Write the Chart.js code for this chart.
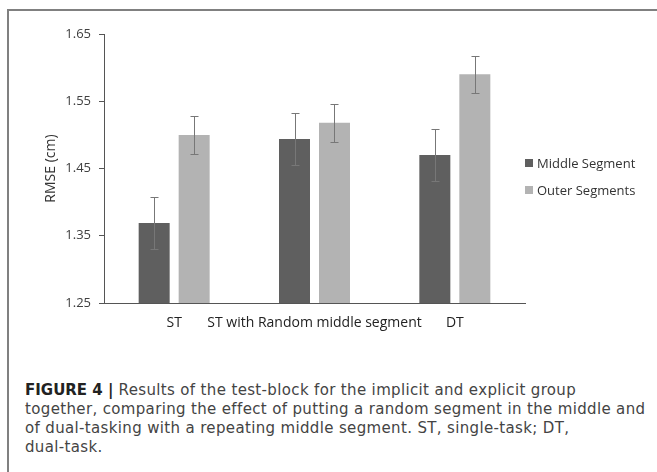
<!DOCTYPE html>
<html>
<head>
<meta charset="utf-8">
<script src="https://cdn.jsdelivr.net/npm/chart.js@4.4.1/dist/chart.umd.min.js"></script>
<style>
  html, body { margin: 0; padding: 0; background: #fff; }
  body { width: 657px; height: 472px; position: relative; overflow: hidden; font-family: "Open Sans", sans-serif; }
  #frame { position: absolute; left: 7px; top: 9px; width: 660px; height: 490px; border: 2px solid #808080; box-sizing: border-box; }
  #chart { position: absolute; left: 0; top: 0; }
  #legend { position: absolute; left: 525px; top: 154px; font-size: 13px; color: #333; }
  #legend .item { position: absolute; left: 0; white-space: nowrap; height: 18px; line-height: 18px; }
  #legend .box { position: absolute; left: 0; top: 5px; width: 8px; height: 8px; }
  #legend .txt { position: absolute; left: 12px; top: 0; }
  #caption { position: absolute; left: 25px; top: 381px; font-family: "DejaVu Sans", sans-serif; font-size: 15px; letter-spacing: 0.35px; line-height: 19px; color: #444; white-space: nowrap; }
  #caption b { color: #222; letter-spacing: 0; }
</style>
</head>
<body>
<div id="frame"></div>
<canvas id="chart" width="657" height="345"></canvas>
<div id="legend"></div>
<div id="caption"><b>FIGURE 4 |</b> Results of the test-block for the implicit and explicit group<br>together, comparing the effect of putting a random segment in the middle and<br>of dual-tasking with a repeating middle segment. ST, single-task; DT,<br>dual-task.</div>
<script>
const categories = ['ST', 'ST with Random middle segment', 'DT'];
const seriesNames = ['Middle Segment', 'Outer Segments'];
const middleValues = [1.369, 1.494, 1.470];
const outerValues = [1.500, 1.518, 1.590];
const middleErrors = [0.039, 0.039, 0.039];
const outerErrors = [0.028, 0.028, 0.027];
const yTicks = [1.25, 1.35, 1.45, 1.55, 1.65];
const colors = ['#5f5f5f', '#b3b3b3'];

// error bars drawn on top of the bars
const errorBars = {
    id: 'errorBars',
    afterDatasetsDraw(chart) {
        const ctx = chart.ctx, y = chart.scales.y;
        chart.data.datasets.forEach(function (ds, i) {
            chart.getDatasetMeta(i).data.forEach(function (bar, j) {
                const x = Math.round(bar.x) + 0.5;
                const top = Math.round(y.getPixelForValue(ds.data[j] + ds.errors[j])) + 0.5;
                const bot = Math.round(y.getPixelForValue(ds.data[j] - ds.errors[j])) + 0.5;
                ctx.save();
                ctx.strokeStyle = '#777';
                ctx.lineWidth = 1;
                ctx.beginPath();
                ctx.moveTo(x, top); ctx.lineTo(x, bot);
                ctx.moveTo(x - 4, top); ctx.lineTo(x + 4, top);
                ctx.moveTo(x - 4, bot); ctx.lineTo(x + 4, bot);
                ctx.stroke();
                ctx.restore();
            });
        });
    }
};

const tickFont = { family: 'Open Sans', size: 13 };

new Chart(document.getElementById('chart').getContext('2d'), {
    type: 'bar',
    data: {
        labels: categories,
        datasets: [
            { label: seriesNames[0], data: middleValues, errors: middleErrors, backgroundColor: colors[0] },
            { label: seriesNames[1], data: outerValues, errors: outerErrors, backgroundColor: colors[1] }
        ]
    },
    options: {
        responsive: false,
        animation: false,
        devicePixelRatio: 1,
        categoryPercentage: 0.57,
        barPercentage: 0.775,
        layout: { padding: { left: 40, top: 34, right: 132, bottom: 2 } },
        plugins: { legend: { display: false }, tooltip: { enabled: false } },
        scales: {
            x: {
                grid: { display: false, drawTicks: false },
                border: { display: true, color: '#555', width: 1 },
                ticks: { color: '#222', font: { family: 'Open Sans', size: 14 }, padding: 12, maxRotation: 0, autoSkip: false },
                afterFit: function (s) { s.height = 40; }
            },
            y: {
                min: 1.25,
                max: 1.65,
                afterBuildTicks: function (s) { s.ticks = yTicks.map(function (v) { return { value: v }; }); },
                grid: { drawOnChartArea: false, drawTicks: true, tickLength: 5, color: '#555' },
                border: { display: true, color: '#555', width: 1 },
                ticks: { color: '#404040', font: tickFont, padding: 8, callback: function (v) { return v.toFixed(2); } },
                title: { display: true, text: 'RMSE (cm)', color: '#333', font: { family: 'Open Sans', size: 14 }, padding: { top: 3, bottom: 4 } },
                afterFit: function (s) { s.width = 64; }
            }
        }
    },
    plugins: [errorBars]
});

// legend
const legend = document.getElementById('legend');
seriesNames.forEach(function (name, i) {
    const item = document.createElement('div');
    item.className = 'item';
    item.style.top = (i * 27) + 'px';
    item.innerHTML = '<span class="box" style="background:' + colors[i] + '"></span><span class="txt">' + name + '</span>';
    legend.appendChild(item);
});
</script>
</body>
</html>
